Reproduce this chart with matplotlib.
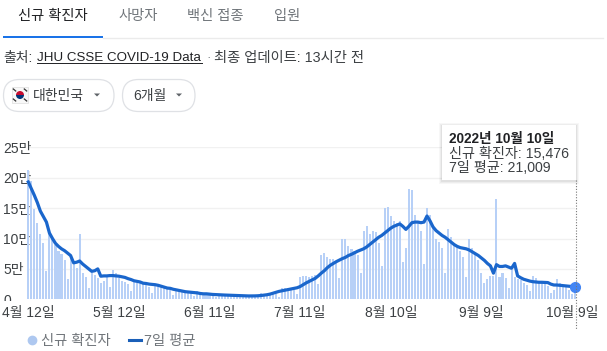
import matplotlib
matplotlib.use("Agg")
import matplotlib.pyplot as plt
from matplotlib.lines import Line2D
from matplotlib.patches import FancyBboxPatch, Rectangle, Wedge, Polygon
from matplotlib.transforms import Bbox

# Values in units of 10,000 (만), one per day from Apr 12 to Oct 10
newCases = [21.2, 19.5, 14.8, 12.5, 10.7, 9.2, 4.7,
            10.8, 10.0, 9.0, 8.0, 7.4, 6.4, 3.4,
            7.1, 6.2, 5.1, 10.7, 4.3, 3.7, 1.9,
            4.3, 4.0, 3.5, 2.6, 3.0, 3.7, 2.0,
            4.9, 4.3, 3.5, 3.0, 2.9, 2.5, 1.3,
            2.8, 2.7, 2.6, 2.5, 2.4, 2.1, 1.0,
            2.4, 2.2, 2.0, 1.9, 1.8, 1.6, 0.7,
            1.5, 1.4, 1.3, 1.2, 1.2, 1.1, 0.6,
            1.3, 1.1, 1.0, 0.9, 0.9, 0.8, 0.4,
            0.9, 0.8, 0.75, 0.7, 0.65, 0.6, 0.3,
            0.75, 0.7, 0.65, 0.6, 0.55, 0.5, 0.3,
            1.0, 0.95, 0.9, 0.9, 0.85, 0.8, 0.4,
            1.8, 1.9, 1.8, 1.8, 1.6, 0.9,
            3.6, 3.9, 3.8, 3.7, 3.8, 4.0, 2.5,
            7.3, 7.6, 7.0, 6.7, 6.6, 6.3, 3.5,
            9.9, 10.0, 8.8, 8.2, 8.0, 7.3, 4.4,
            11.2, 12.0, 10.8, 11.3, 11.0, 9.2, 5.5,
            15.0, 15.2, 13.7, 12.8, 12.5, 12.8, 6.1,
            8.4, 18.1, 17.9, 13.9, 12.5, 11.2, 5.8,
            15.0, 13.9, 11.7, 10.0, 9.5, 8.4, 4.3,
            11.5, 10.3, 9.0, 8.4, 8.0, 7.0, 3.6,
            9.9, 8.4, 7.6, 6.5, 4.3, 2.7, 3.4, 3.8, 3.9,
            16.5, 3.6, 4.3, 3.5, 1.9, 4.8, 3.7, 3.3, 3.1, 2.7, 2.4, 1.3,
            3.8, 3.5, 2.9, 2.75, 2.6, 2.2, 1.1, 1.5, 3.35, 2.6, 2.4, 2.1, 1.6, 0.8, 1.55]

average = [19.3, 18.2, 17.1, 15.9, 14.5, 13.6, 12.7, 10.9, 10.0, 9.2,
           8.7, 8.3, 8.0, 7.6, 7.2, 6.0, 6.1, 6.3, 5.8, 5.4,
           5.0, 4.6, 4.7, 5.0, 3.8, 3.85, 3.85, 3.9, 3.9, 3.85,
           3.8, 3.7, 3.6, 3.4, 3.25, 3.05, 2.95, 2.85, 2.65, 2.6,
           2.5, 2.45, 2.4, 2.3, 2.15, 2.0, 1.85, 1.8, 1.65, 1.55,
           1.45, 1.35, 1.25, 1.2, 1.15, 1.1, 1.05, 0.95, 0.9, 0.9,
           0.85, 0.8, 0.78, 0.75, 0.72, 0.7, 0.68, 0.66, 0.64, 0.62,
           0.6, 0.58, 0.56, 0.55, 0.55, 0.56, 0.58, 0.62, 0.68, 0.75,
           0.85, 1.0, 1.15, 1.3, 1.4, 1.5, 1.6, 1.7, 1.8, 1.9,
           2.1, 2.4, 2.7, 2.95, 3.2, 3.45, 3.85, 4.3, 4.7, 5.2,
           5.6, 5.9, 6.2, 6.45, 6.7, 6.9, 7.2, 7.4, 7.65, 7.9,
           8.1, 8.3, 8.6, 9.0, 9.4, 9.8, 10.2, 10.5, 10.9, 11.3,
           11.7, 12.0, 12.2, 12.4, 12.0, 11.5, 12.0, 12.6, 12.7, 12.7,
           12.6, 12.7, 13.7, 12.9, 11.9, 11.3, 10.9, 10.5, 10.2, 9.8,
           9.4, 9.0, 8.7, 8.5, 8.4, 8.3, 8.1, 7.8, 7.5, 7.2,
           6.8, 6.4, 5.9, 5.5, 4.3, 5.7, 5.4, 5.4, 5.5, 5.3,
           5.1, 5.9, 3.85, 3.55, 3.3, 3.15, 3.0, 2.9, 2.85, 2.8,
           2.8, 2.78, 2.75, 2.5, 2.35, 2.35, 2.3, 2.25, 2.2, 2.15,
           2.1, 2.1]

days = list(range(len(newCases)))

xTicks = [0, 30, 60, 90, 120, 150, 180]
xLabels = ["4월 12일", "5월 12일", "6월 11일", "7월 11일", "8월 10일", "9월 9일", "10월 9일"]
yTicks = [0, 5, 10, 15, 20, 25]
yLabels = ["0", "5만", "10만", "15만", "20만", "25만"]

tabs = ["신규 확진자", "사망자", "백신 접종", "입원"]

FONT = ["Liberation Sans", "Noto Sans CJK KR"]
plt.rcParams["font.family"] = FONT

W, H = 607, 351
fig = plt.figure(figsize=(W / 100, H / 100), dpi=100)
fig.patch.set_facecolor("white")

# Chart axes, placed by pixel
left, right, top, bottom = 28.3, 575.0, 147.3, 299.3
ax = fig.add_axes([left / W, 1 - bottom / H, (right - left) / W, (bottom - top) / H])
ax.set_xlim(0, len(days) - 1)
ax.set_ylim(0, 25)
ax.patch.set_alpha(0)
for s in ax.spines.values():
    s.set_visible(False)

ax.grid(axis="y", color="#f1f1f1", lw=1)
ax.set_axisbelow(True)
ax.bar(days, newCases, width=0.68, color="#b7d0f7", clip_on=False)
ax.plot(days, average, color="#1a66cc", lw=2.3, solid_joinstyle="round", clip_on=False)
ax.plot(days[-1], average[-1], "o", ms=7, color="#4285f4", clip_on=False, zorder=5)

ax.set_xticks(xTicks)
ax.set_xticklabels(xLabels)
ax.set_yticks(yTicks)
ax.set_yticklabels(yLabels, ha="left")
ax.tick_params(axis="x", length=0, pad=4.5, labelsize=10, labelcolor="#3c4043")
ax.tick_params(axis="y", length=0, pad=18, labelsize=10, labelcolor="#3c4043")

# the 0 label is cut off by the x axis area
for t in ax.get_yticklabels():
    t.set_clip_box(Bbox([[0, H - 300.5], [W, H]]))
    t.set_clip_on(True)

# Legend
handles = [Line2D([], [], ls="none", marker="o", ms=6, color="#aec8f0"),
           Line2D([], [], color="#1a5fb8", lw=2.2)]
leg = ax.legend(handles, ["신규 확진자", "7일 평균"], ncol=2, frameon=False,
                loc="center left", bbox_to_anchor=(26 / W, 1 - 341 / H),
                bbox_transform=fig.transFigure, fontsize=10.3, labelcolor="#70757a",
                handlelength=0.85, handletextpad=0.2, columnspacing=1.3,
                borderpad=0, borderaxespad=0)

# Page elements around the chart, in pixel coordinates
page = fig.add_axes([0, 0, 1, 1], zorder=3)
page.set_xlim(0, W)
page.set_ylim(H, 0)
page.axis("off")

tabX = [18, 118, 187, 274]
for i in range(len(tabs)):
    page.text(tabX[i], 16, tabs[i], fontsize=10.3, va="center",
              color="#202124" if i == 0 else "#70757a")
page.add_patch(Rectangle((3, 36), 100, 2, color="#1a73e8", lw=0))
page.plot([103, 603], [38, 38], color="#ebebeb", lw=1)

page.text(3, 58, "출처:", fontsize=10, va="center", color="#3c4043")
page.text(37, 58, "JHU CSSE COVID-19 Data", fontsize=9.6, va="center", color="#202124")
page.plot([37, 202], [63, 63], color="#202124", lw=0.7)
page.text(206, 58, "·", fontsize=9.6, va="center", color="#70757a")
page.text(214, 58, "최종 업데이트: 13시간 전", fontsize=10.3, va="center", color="#3c4043")

# Filter pills
for x0, x1 in [(3.5, 114), (122.5, 195)]:
    page.add_patch(FancyBboxPatch((x0 + 16, 95.5), x1 - x0 - 32, 0.01,
                                  boxstyle="round,pad=16", fc="white", ec="#dfe1e5", lw=0.9))
page.text(33, 96, "대한민국", fontsize=10, va="center", color="#3c4043")
page.text(133, 96, "6개월", fontsize=10, va="center", color="#3c4043")
for cx in [97, 179]:
    page.add_patch(Polygon([(cx - 3, 93.5), (cx + 3, 93.5), (cx, 96.5)], color="#5f6368", lw=0))

# Flag
page.add_patch(Rectangle((12, 87), 16, 16, fc="#f8f8f8", ec="#dddddd", lw=0.5))
page.add_patch(Wedge((20, 95), 4, 180, 360, color="#c60c30", lw=0))
page.add_patch(Wedge((20, 95), 4, 0, 180, color="#003478", lw=0))
for fx, fy in [(14.5, 90), (25.5, 90), (14.5, 100), (25.5, 100)]:
    page.plot([fx - 1.2, fx + 1.2], [fy - 1, fy + 1], color="#333333", lw=0.9)

# Tooltip and the hover line
page.plot([575.5, 575.5], [180, 330], color="#777777", lw=0.8, ls=(0, (1, 1.5)))
for k, a in [(3.0, 0.03), (2.0, 0.04), (1.0, 0.05)]:
    page.add_patch(Rectangle((442 - k, 125 - k + 1), 134 + 2 * k, 55 + 2 * k, color="black", alpha=a, lw=0))
page.add_patch(Rectangle((442, 125), 134, 55, color="white", lw=0))
page.text(449, 139, "2022년 10월 10일", fontsize=9.8, fontweight="bold", va="center", color="#202124")
page.text(449, 154, "신규 확진자: 15,476", fontsize=10.2, va="center", color="#3c4043")
page.text(449, 168, "7일 평균: 21,009", fontsize=10.2, va="center", color="#3c4043")

fig.savefig("out.png", dpi=100)
plt.close()
